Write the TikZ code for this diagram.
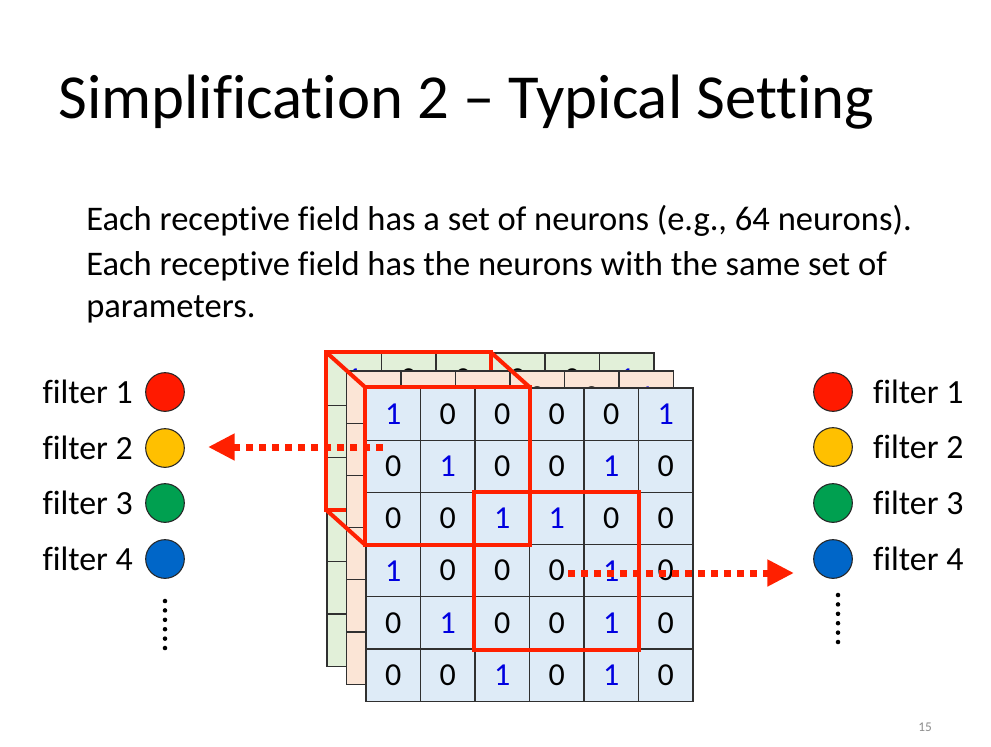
\documentclass[tikz,border=0pt]{standalone}
\usepackage{fontspec}
\setmainfont{Carlito}[Ligatures=NoCommon]
\usepackage{xcolor}
\usetikzlibrary{arrows.meta, positioning}

\definecolor{redline}{HTML}{FF2000}
\definecolor{gridline}{HTML}{303030}
\definecolor{layerblue}{HTML}{DEEBF7}
\definecolor{layerpeach}{HTML}{FBE5D6}
\definecolor{layergreen}{HTML}{E2F0D9}
\definecolor{num0}{HTML}{000000}
\definecolor{num1}{HTML}{0000E0}
\definecolor{fred}{HTML}{FF1A00}
\definecolor{fyellow}{HTML}{FFC000}
\definecolor{fgreen}{HTML}{00A050}
\definecolor{fblue}{HTML}{0066C8}

\tikzset{
  cell/.style={draw=gridline, line width=0.8pt, minimum width=40.875pt, minimum height=39.15pt,
    inner sep=0pt, font=\fontsize{24}{24}\selectfont},
  redbox/.style={draw=redline, line width=3pt, line join=miter},
  dotarrow/.style={draw=redline, line width=5.25pt, dash pattern=on 5.25pt off 4.5pt,
    -{Triangle[length=20pt,width=19pt]}},
  filt/.style={circle, draw=black!85, line width=0.8pt, minimum size=29pt, inner sep=0pt},
  lbl/.style={font=\fontsize{25.4}{25.4}\selectfont, inner sep=0pt}
}

% one 6x6 layer of the input: prefix, fill, left, top
\newcommand{\celllayer}[4]{%
  \foreach \row [count=\r from 0] in {{1,0,0,0,0,1},{0,1,0,0,1,0},{0,0,1,1,0,0},
                                      {1,0,0,0,1,0},{0,1,0,0,1,0},{0,0,1,0,1,0}}
    \foreach \v [count=\c from 0] in \row
      \node[cell, fill=#2, text=num\v] (#1-\r-\c) at ({#3+(\c+0.5)*54.5},{#4+(\r+0.5)*52.2}) {\v};
}

\begin{document}
\begin{tikzpicture}[x=0.75pt, y=-0.75pt]
    \useasboundingbox (0,0) rectangle (991,746);

    % Title and text
    \node[anchor=base west, inner sep=0pt, font=\fontsize{47}{47}\selectfont] (title) at (58,118)
        {Simplification 2 -- Typical Setting};
    \node[anchor=base west, inner sep=0pt, font=\fontsize{25.9}{25.9}\selectfont] (line1) at (86,230)
        {Each receptive field has a set of neurons (e.g., 64 neurons).};
    \node[anchor=base west, inner sep=0pt, font=\fontsize{25.9}{25.9}\selectfont] (line2) at (86,275)
        {Each receptive field has the neurons with the same set of};
    \node[anchor=base west, inner sep=0pt, font=\fontsize{25.9}{25.9}\selectfont] (line3) at (86,317)
        {parameters.};

    % Layers (back to front)
    \celllayer{g}{layergreen}{327}{353}
    \draw[redbox] (g-0-0.north west) rectangle (g-2-2.south east);
    \celllayer{p}{layerpeach}{346.5}{371}
    \celllayer{n}{layerblue}{366}{388}

    % Receptive fields
    \draw[redbox] (n-0-0.north west) rectangle (n-2-2.south east);
    \draw[redbox] (n-2-2.north west) rectangle (n-4-4.south east);
    \draw[redbox] (g-0-0.north west) -- (n-0-0.north west);
    \draw[redbox] (g-0-2.north east) -- (n-0-2.north east);
    \draw[redbox] (g-2-0.south west) -- (n-2-0.south west);

    % Filters (left)
    \foreach \i/\col/\y in {1/fred/392, 2/fyellow/448, 3/fgreen/503, 4/fblue/559} {
        \node[filt, fill=\col] (fL\i) at (165,\y) {};
        \node[lbl, left=9pt of fL\i] (tL\i) {filter \i};
    }
    \foreach \k in {0,...,5}
        \fill (165,{601+\k*9.4}) circle (1.7pt);

    % Filters (right)
    \foreach \i/\col/\y in {1/fred/392, 2/fyellow/447, 3/fgreen/503, 4/fblue/559} {
        \node[filt, fill=\col] (fR\i) at (833,\y) {};
        \node[lbl, right=15pt of fR\i] (tR\i) {filter \i};
    }
    \foreach \k in {0,...,5}
        \fill (838,{595+\k*9.4}) circle (1.7pt);

    % Dotted arrows
    \coordinate (srcL) at (383,447);
    \coordinate (dstL) at (208,447);
    \coordinate (srcR) at (568,573);
    \coordinate (dstR) at (794,573);
    \draw[dotarrow] (srcL) -- (dstL);
    \draw[dotarrow] (srcR) -- (dstR);

    % Page number
    \node[font=\fontsize{10}{10}\selectfont, text=black!45, inner sep=0pt] (page) at (925,727) {15};
\end{tikzpicture}
\end{document}
